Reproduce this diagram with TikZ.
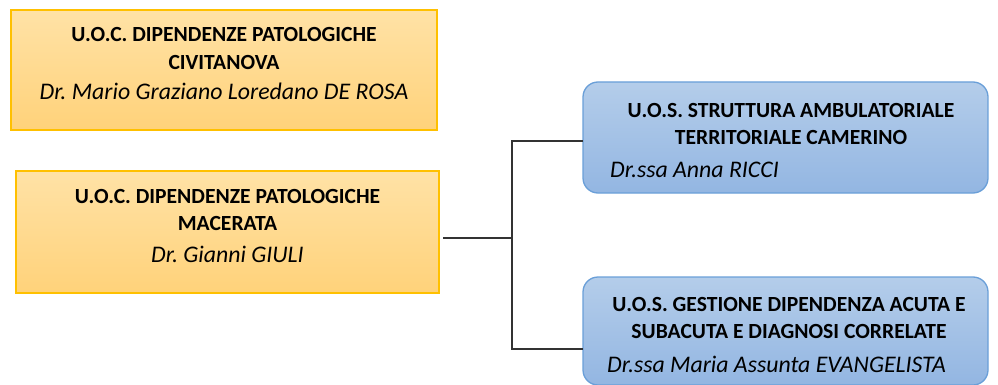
\documentclass[tikz,border=0pt]{standalone}
\usepackage{fontspec}
\setmainfont{Carlito}
\usetikzlibrary{calc}
\frenchspacing

\definecolor{uoctop}{HTML}{FFE2A6}
\definecolor{uocbot}{HTML}{FFD27A}
\definecolor{uocline}{HTML}{FFC000}
\definecolor{uostop}{HTML}{B4CDEA}
\definecolor{uosbot}{HTML}{93B6E2}
\definecolor{uosline}{HTML}{6A9FD8}

\begin{document}
\begin{tikzpicture}[x=1pt,y=-1pt,
		uocbox/.style={draw=uocline,line width=1.3pt,top color=uoctop,bottom color=uocbot,inner sep=0pt,outer sep=0pt},
		uosbox/.style={draw=uosline,line width=1.3pt,top color=uostop,bottom color=uosbot,rounded corners=15pt,inner sep=0pt,outer sep=0pt},
		titletxt/.style={align=center,font=\fontsize{21.6}{27.5}\selectfont\bfseries,inner sep=0pt},
		nametxt/.style={font=\fontsize{23.8}{28}\selectfont\itshape,inner sep=0pt},
		link/.style={draw=black!80,line width=1.3pt}]
		\useasboundingbox (0,0) rectangle (998,385);

		% U.O.C. boxes
		\node[uocbox,minimum width=426pt,minimum height=120pt] (civ) at (224,70) {};
		\node[titletxt] (civ-t) at (224,48.5) {U.O.C. DIPENDENZE PATOLOGICHE\\CIVITANOVA};
		\node[nametxt] (civ-n) at (224,91) {Dr. Mario Graziano Loredano DE ROSA};

		\node[uocbox,minimum width=423pt,minimum height=122pt] (mac) at (227.5,232) {};
		\node[titletxt] (mac-t) at (227.5,210) {U.O.C. DIPENDENZE PATOLOGICHE\\MACERATA};
		\node[nametxt] (mac-n) at (227.5,254) {Dr. Gianni GIULI};

		% U.O.S. boxes
		\node[uosbox,minimum width=405pt,minimum height=111pt] (cam) at (785.5,137.5) {};
		\node[titletxt] (cam-t) at (791,124) {U.O.S. STRUTTURA AMBULATORIALE\\TERRITORIALE CAMERINO};
		\node[nametxt,anchor=west] (cam-n) at (610,170) {Dr.ssa Anna RICCI};

		\node[uosbox,minimum width=405pt,minimum height=108pt] (ges) at (785.5,331) {};
		\node[titletxt] (ges-t) at (789,318) {U.O.S. GESTIONE DIPENDENZA ACUTA E\\SUBACUTA E DIAGNOSI CORRELATE};
		\node[nametxt,anchor=west] (ges-n) at (607,364) {Dr.ssa Maria Assunta EVANGELISTA};

		% Connectors
		\coordinate (fork) at (512,238);
		\coordinate (forktop) at (512,141);
		\coordinate (forkbot) at (512,349);
		\draw[link] ([xshift=4pt]mac.east |- fork) -- (fork);
		\draw[link] (cam.west |- forktop) -- (forktop) -- (forkbot) -- (ges.west |- forkbot);
	\end{tikzpicture}
\end{document}
